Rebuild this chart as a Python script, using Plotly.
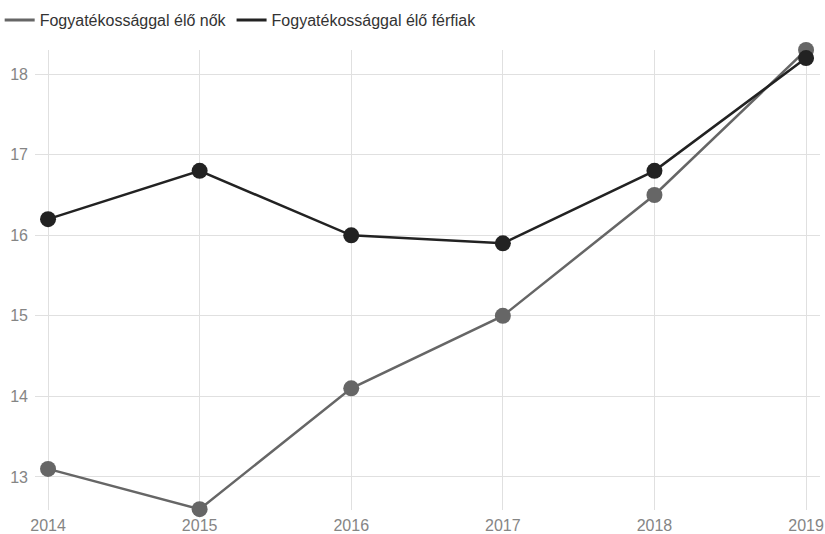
import plotly.graph_objects as go

years = [2014, 2015, 2016, 2017, 2018, 2019]
women = [13.1, 12.6, 14.1, 15.0, 16.5, 18.3]
men = [16.2, 16.8, 16.0, 15.9, 16.8, 18.2]
names = ["Fogyatékossággal élő nők", "Fogyatékossággal élő férfiak"]
colors = ["#666666", "#222222"]
y_ticks = [13, 14, 15, 16, 17, 18]

fig = go.Figure()
for vals, name, col in [(women, names[0], colors[0]), (men, names[1], colors[1])]:
    fig.add_trace(go.Scatter(x=years, y=vals, name=name, mode="lines+markers",
                             line=dict(color=col, width=2.5), showlegend=False,
                             marker=dict(size=16, color=col), cliponaxis=False))
for name, col in zip(names, colors):
    fig.add_trace(go.Scatter(x=[None], y=[None], name=name, mode="lines",
                             line=dict(color=col, width=3), showlegend=True))

fig.update_layout(
    width=825, height=534,
    margin=dict(l=35, r=5, t=50, b=24, autoexpand=False),
    paper_bgcolor="white", plot_bgcolor="white",
    font=dict(family="Liberation Sans, Arial, sans-serif", size=16, color="#333333"),
    showlegend=True,
    legend=dict(orientation="h", x=-0.045, xanchor="left", y=1.065, yanchor="middle",
                font=dict(size=16, color="#333333"), itemwidth=30, traceorder="normal",
                bgcolor="rgba(0,0,0,0)"),
    xaxis=dict(range=[2013.914, 2019.092], tickvals=years, ticktext=[str(y) for y in years],
               showgrid=True, gridcolor="#e0e0e0", gridwidth=1, zeroline=False,
               showline=False, ticks="", automargin=False, ticklabelstandoff=4,
               tickfont=dict(size=16, color="#858585")),
    yaxis=dict(range=[12.59, 18.30], tickvals=y_ticks, showgrid=True, gridcolor="#e0e0e0",
               gridwidth=1, zeroline=False, showline=False, ticks="", automargin=False,
               ticklabelstandoff=6, tickfont=dict(size=16, color="#858585")),
)
fig.write_html("out.html", config={"displayModeBar": False},
               post_script="document.body.style.margin='0';document.body.style.overflow='hidden';")
